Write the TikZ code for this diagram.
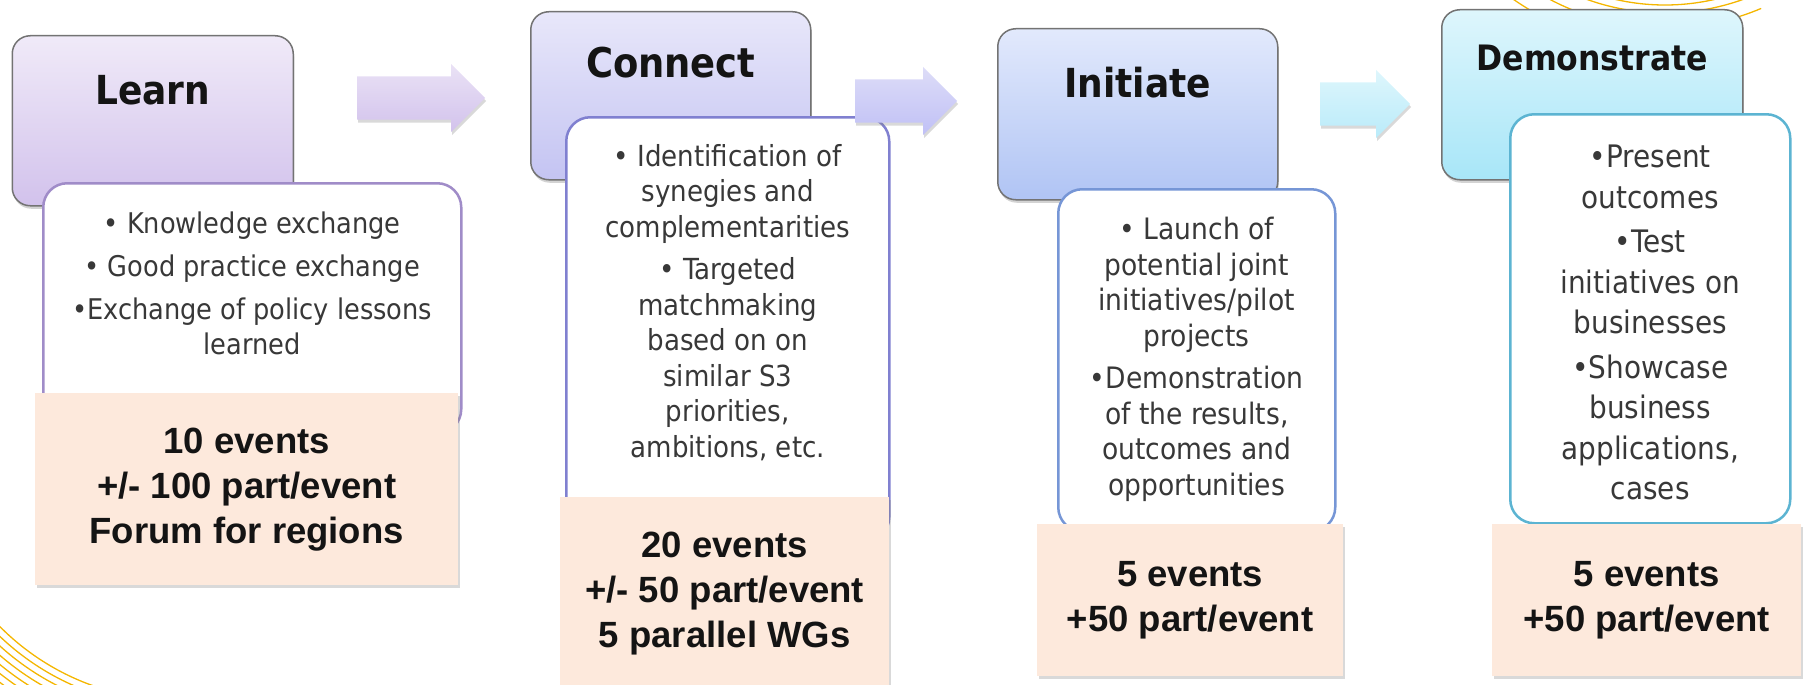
\documentclass[tikz,border=0pt]{standalone}
\usepackage{fontspec}
\setmainfont{DejaVu Sans Condensed}[BoldFont={DejaVu Sans Condensed Bold}]
\newfontfamily\countfont{Liberation Sans}
\usetikzlibrary{shapes.arrows,shadows,positioning}

\definecolor{learnTop}{RGB}{240,234,248}
\definecolor{learnBot}{RGB}{210,194,236}
\definecolor{learnLine}{RGB}{160,140,200}
\definecolor{connectTop}{RGB}{232,231,250}
\definecolor{connectBot}{RGB}{196,196,242}
\definecolor{connectLine}{RGB}{128,128,208}
\definecolor{initTop}{RGB}{226,233,252}
\definecolor{initBot}{RGB}{176,196,244}
\definecolor{initLine}{RGB}{118,150,214}
\definecolor{demoTop}{RGB}{222,246,252}
\definecolor{demoBot}{RGB}{168,230,248}
\definecolor{demoLine}{RGB}{92,180,210}
\definecolor{peach}{RGB}{253,233,220}
\definecolor{arcgold}{RGB}{244,182,0}

\tikzset{
  head/.style={draw=black!55, line width=1.5pt, rounded corners=18pt, anchor=north west,
    inner sep=0pt, drop shadow={shadow xshift=1pt, shadow yshift=-3pt, opacity=.35}},
  body/.style={draw=#1, fill=white, line width=2.5pt, rounded corners=24pt,
    anchor=north west, inner sep=0pt},
  count/.style={fill=peach, anchor=north west, inner sep=0pt, align=center,
    text=black!92, font=\countfont\bfseries\fontsize{36.5}{45}\selectfont,
    drop shadow={shadow xshift=2pt, shadow yshift=-3pt, opacity=.3}},
  flow/.style={single arrow, single arrow head extend=12.5pt, single arrow tip angle=90,
    inner xsep=0pt, inner ysep=21.5pt, anchor=west,
    drop shadow={shadow xshift=1pt, shadow yshift=-3pt, opacity=.3}},
  title/.style={font=\bfseries\fontsize{#1}{48}\selectfont, text=black!92, inner sep=0pt},
  items/.style={align=center, anchor=north, inner sep=0pt, text=black!78},
  goldarc/.style={draw=arcgold, line width=1.3pt}
}

\begin{document}
\begin{tikzpicture}[x=1pt,y=-1pt]
\useasboundingbox (0,0) rectangle (1804,685);

% background arcs
\begin{scope}
  \clip (0,0) rectangle (1804,685);
  \foreach \r/\a in {223/40,231/40,246/67,265/90}
    \draw[goldarc] (1665,-218) ++(\a:\r) arc[start angle=\a, end angle=140, radius=\r];
  \foreach \r in {248,255,262,269,276,283,290}
    \draw[goldarc] (176,452) ++(95:\r) arc[start angle=95, end angle=160, radius=\r];
\end{scope}

% Learn
\node[head, top color=learnTop, bottom color=learnBot, minimum width=281pt, minimum height=170pt] (learnhead) at (11.5,35) {};
\node[title=40] (learntitle) at ([yshift=-55pt]learnhead.north) {Learn};
\node[body=learnLine, minimum width=418pt, minimum height=250pt] (learnbody) at (42,182) {};
\node[items, font=\fontsize{28.5}{35}\selectfont] (learntext) at ([yshift=-30pt]learnbody.north)
  {• Knowledge exchange\\[8pt] • Good practice exchange\\[8pt] •Exchange of policy lessons\\ learned};
\node[count, minimum width=423pt, minimum height=192pt] (learncount) at (35,393)
  {10 events\\ +/- 100 part/event\\ Forum for regions};

% Connect
\node[head, top color=connectTop, bottom color=connectBot, minimum width=280pt, minimum height=168pt] (connecthead) at (530,11) {};
\node[title=41] (connecttitle) at ([yshift=-52pt]connecthead.north) {Connect};
\node[body=connectLine, minimum width=323pt, minimum height=424pt] (connectbody) at (565,116) {};
\node[items, font=\fontsize{29}{35.5}\selectfont] (connecttext) at ([yshift=-28pt]connectbody.north)
  {• Identification of\\ synegies and\\ complementarities\\[7pt] • Targeted\\ matchmaking\\ based on on\\ similar S3\\ priorities,\\ ambitions, etc.};
\node[count, minimum width=329pt, minimum height=193pt] (connectcount) at (560,497)
  {20 events\\ +/- 50 part/event\\ 5 parallel WGs};

% Initiate
\node[head, top color=initTop, bottom color=initBot, minimum width=280pt, minimum height=171pt] (inithead) at (997,28) {};
\node[title=40] (inittitle) at ([yshift=-55pt]inithead.north) {Initiate};
\node[body=initLine, minimum width=277pt, minimum height=342pt] (initbody) at (1057,188) {};
\node[items, font=\fontsize{29.5}{35.5}\selectfont] (inittext) at ([yshift=-29pt]initbody.north)
  {• Launch of\\ potential joint\\ initiatives/pilot\\ projects\\[7pt] •Demonstration\\ of the results,\\ outcomes and\\ opportunities};
\node[count, minimum width=306pt, minimum height=152pt] (initcount) at (1037,524)
  {5 events\\ +50 part/event};

% Demonstrate
\node[head, top color=demoTop, bottom color=demoBot, minimum width=301pt, minimum height=170pt] (demohead) at (1441,9) {};
\node[title=35] (demotitle) at ([yshift=-49pt]demohead.north) {Demonstrate};
\node[body=demoLine, minimum width=280pt, minimum height=409pt] (demobody) at (1509,113) {};
\node[items, font=\fontsize{31}{40.5}\selectfont] (demotext) at ([yshift=-32pt]demobody.north)
  {•Present\\ outcomes\\[4pt] •Test\\ initiatives on\\ businesses\\[4pt] •Showcase\\ business\\ applications,\\ cases};
\node[count, minimum width=309pt, minimum height=152pt] (democount) at (1492,524)
  {5 events\\ +50 part/event};

% arrows between the stages
\node[flow, top color=learnTop!80!learnBot, bottom color=learnBot, minimum height=128pt] (flowa) at (357,98) {};
\node[flow, top color=connectTop!70!connectBot, bottom color=connectBot!90!blue!80, minimum height=102pt] (flowb) at (855,101) {};
\node[flow, top color=demoTop, bottom color=demoBot!80!white, minimum height=90pt] (flowc) at (1320,104) {};
\end{tikzpicture}
\end{document}
